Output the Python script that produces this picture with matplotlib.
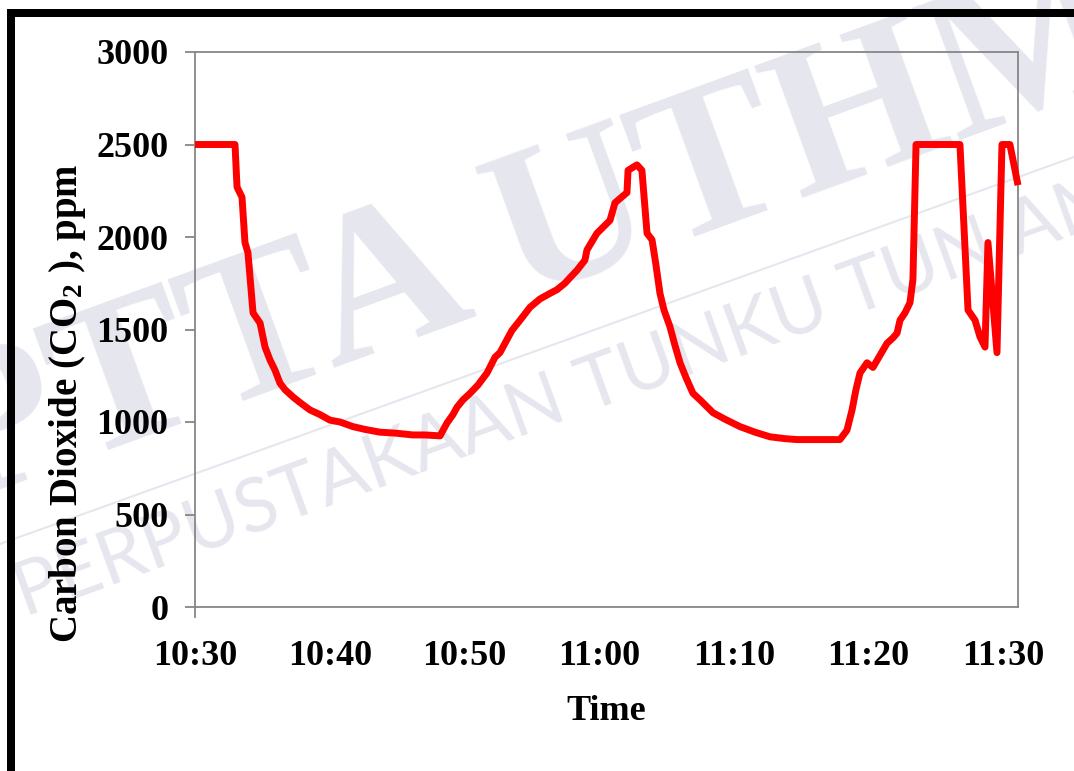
import matplotlib
matplotlib.use("Agg")
import matplotlib.pyplot as plt
from matplotlib.patches import Rectangle
from matplotlib.lines import Line2D

# CO2 readings: minutes after 10:30 and concentration in ppm
minutes = [0.0, 2.97, 3.12, 3.49, 3.71, 3.93, 4.31, 4.83, 5.20, 5.57,
           5.94, 6.31, 6.68, 7.28, 7.80, 8.54, 9.28, 10.02, 10.76, 11.73,
           12.62, 13.73, 14.85, 16.18, 17.07, 18.19, 18.71, 19.15, 19.45, 19.90,
           20.42, 21.01, 21.68, 22.27, 22.64, 23.01, 23.53, 24.13, 24.87, 25.61,
           26.35, 26.87, 27.46, 27.84, 28.36, 28.95, 29.10, 29.84, 30.81, 31.18,
           32.07, 32.15, 32.81, 33.18, 33.56, 33.93, 34.22, 34.52, 34.82, 35.26,
           35.63, 36.01, 36.45, 36.97, 37.49, 38.46, 39.35, 40.46, 41.57, 42.69,
           43.80, 44.69, 46.03, 47.88, 48.40, 48.78, 49.07, 49.37, 49.89, 50.33,
           50.85, 51.37, 51.82, 52.12, 52.34, 52.71, 53.08, 53.30, 53.53, 56.79,
           57.39, 57.91, 58.28, 58.65, 58.87, 59.54, 59.91, 60.50, 61.10]
co2_ppm = [2500, 2500, 2270, 2215, 1970, 1915, 1590, 1535, 1405, 1335,
           1280, 1210, 1175, 1135, 1105, 1065, 1040, 1010, 1000, 975,
           960, 945, 940, 930, 930, 925, 995, 1040, 1080, 1120,
           1155, 1200, 1265, 1350, 1375, 1425, 1495, 1550, 1620, 1665,
           1695, 1715, 1750, 1780, 1820, 1875, 1930, 2020, 2090, 2185,
           2240, 2360, 2390, 2360, 2020, 1985, 1850, 1695, 1605, 1515,
           1415, 1320, 1240, 1155, 1120, 1050, 1015, 975, 945, 920,
           910, 905, 905, 905, 955, 1065, 1175, 1265, 1320, 1295,
           1360, 1425, 1455, 1480, 1550, 1590, 1645, 1770, 2500, 2500,
           1605, 1550, 1460, 1405, 1970, 1375, 2500, 2500, 2280]

time_ticks = [0, 10, 20, 30, 40, 50, 60]
time_labels = ["10:30", "10:40", "10:50", "11:00", "11:10", "11:20", "11:30"]
ppm_ticks = [0, 500, 1000, 1500, 2000, 2500, 3000]

W, H = 1074, 771
SERIF = "Liberation Serif"
GREY = "#868686"
WM = "#e6e6ef"

plt.rcParams["mathtext.fontset"] = "custom"
plt.rcParams["mathtext.rm"] = "Liberation Serif:bold"
plt.rcParams["mathtext.bf"] = "Liberation Serif:bold"
plt.rcParams["mathtext.default"] = "regular"

fig = plt.figure(figsize=(W / 100, H / 100), dpi=100)
fig.patch.set_facecolor("white")


def fx(px):
    return px / W


def fy(py):
    return 1 - py / H


# library watermark behind the chart
fig.text(fx(-46), fy(506), "PTTA UTHM", rotation=20, rotation_mode="anchor",
         ha="left", va="baseline", fontsize=155, family=SERIF,
         fontweight="bold", color=WM, zorder=-5)
fig.text(fx(25), fy(618), "PERPUSTAKAAN TUNKU TUN AMINAH", rotation=20,
         rotation_mode="anchor", ha="left", va="baseline", fontsize=54,
         family="Lato", fontweight="normal", color=WM, zorder=-5)
fig.add_artist(Line2D([0, 1], [fy(544), fy(157)], transform=fig.transFigure,
                      color=WM, lw=1.5, zorder=-5))

# thick black frame along the top and left
fig.add_artist(Rectangle((fx(7), fy(16.7)), 1 - fx(7), 7.7 / H,
                         transform=fig.transFigure, color="black", lw=0, zorder=10))
fig.add_artist(Rectangle((fx(7), 0), 8 / W, fy(9), transform=fig.transFigure,
                         color="black", lw=0, zorder=10))

ax = fig.add_axes([fx(195), fy(607), (1018 - 195) / W, (607 - 52) / H])
ax.set_facecolor("none")

ax.plot(minutes, co2_ppm, color="#ff0000", lw=5, solid_joinstyle="round",
        solid_capstyle="butt", clip_on=False, zorder=3)

ax.set_xlim(0, 61.1)
ax.set_ylim(0, 3000)
ax.set_xticks(time_ticks)
ax.set_xticklabels(time_labels)
ax.set_yticks(ppm_ticks)
ax.set_yticklabels([str(v) for v in ppm_ticks])

for s in ax.spines.values():
    s.set_color(GREY)
    s.set_linewidth(1.3)

ax.tick_params(axis="x", length=0, pad=24)
ax.tick_params(axis="y", length=7.2, width=1.3, color=GREY, pad=12)
for lab in ax.get_xticklabels() + ax.get_yticklabels():
    lab.set_fontfamily(SERIF)
    lab.set_fontweight("bold")
    lab.set_fontsize(26)

# short stub of the value axis below the origin
ax.add_line(Line2D([0, 0], [0, -0.018], transform=ax.transAxes, color=GREY,
                   lw=1.3, clip_on=False))

fig.text(fx(606), fy(712), "Time", ha="center", va="center", family=SERIF,
         fontweight="bold", fontsize=26)
fig.text(fx(68), fy(403), "Carbon Dioxide (CO$_2$ ), ppm", rotation=90,
         ha="center", va="center", family=SERIF, fontweight="bold",
         fontsize=28)

fig.savefig("out.png", dpi=100)
